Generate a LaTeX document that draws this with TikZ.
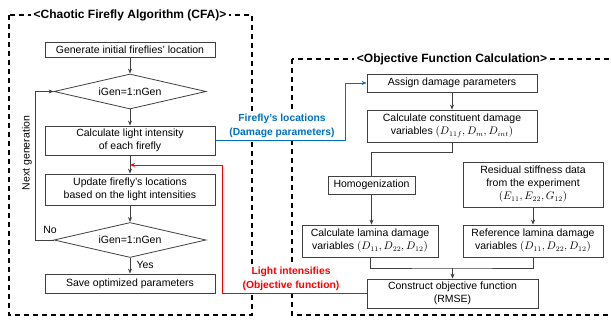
\documentclass[tikz,border=0pt]{standalone}
\usepackage{fontspec}
\setmainfont{Liberation Sans}
\usetikzlibrary{shapes.geometric,arrows.meta}
\definecolor{flowblue}{RGB}{0,112,192}
\definecolor{boxgray}{RGB}{64,64,64}
\begin{document}
\begin{tikzpicture}[x=1pt,y=-1pt,
  txt/.style={font=\fontsize{10.5}{13}\selectfont},
  box/.style={txt, draw=boxgray, line width=0.8pt, align=center, inner sep=1pt},
  dec/.style={txt, draw=boxgray, line width=0.8pt, shape=diamond, aspect=4.3,
    minimum width=152pt, minimum height=35pt, inner sep=0pt},
  tip/.style={-{Stealth[length=5pt,width=4pt]}},
  flow/.style={draw=boxgray, line width=0.8pt, tip},
  link/.style={draw=boxgray, line width=0.8pt},
  frame/.style={draw=black, line width=1.4pt, dash pattern=on 5pt off 4pt},
  title/.style={fill=white, font=\bfseries\fontsize{12}{14}\selectfont, inner sep=3pt},
  tag/.style={fill=white, inner sep=1pt, font=\bfseries\fontsize{10.3}{13.5}\selectfont, align=center}]
\clip (0,0) rectangle (611,320);
\fill[white] (0,0) rectangle (611,320);

% dashed frames of the two stages
\draw[frame] (9,15) rectangle (252,315);
\draw[frame] (292,59) rectangle (640,315);
\node[title] (cfatitle) at (130,15) {<Chaotic Firefly Algorithm (CFA)>};
\node[title] (objtitle) at (452,59) {<Objective Function Calculation>};

% firefly algorithm loop
\node[box, minimum width=170pt, minimum height=14.5pt] (gen) at (130,50) {Generate initial fireflies' location};
\node[dec] (d1) at (130,91.5) {iGen=1:nGen};
\node[box, minimum width=170pt, minimum height=29pt] (calc) at (130,140.5) {Calculate light intensity\\of each firefly};
\node[box, minimum width=170pt, minimum height=31pt] (upd) at (130,189.5) {Update firefly's locations\\based on the light intensities};
\node[dec] (d2) at (130,240) {iGen=1:nGen};
\node[box, minimum width=170pt, minimum height=19pt] (save) at (130,283.5) {Save optimized parameters};

\draw[flow] (gen) -- (d1);
\draw[flow] (d1) -- (calc);
\draw[flow] (calc) -- (upd);
\draw[flow] (upd) -- (d2);
\draw[flow] (d2) -- (save);
\coordinate (loopcorner) at (35,240);
\draw[flow] (d2.west) -- (loopcorner) |- (d1.west);
\node[txt, anchor=south] (no) at (50,237) {No};
\node[txt, anchor=west] (yes) at (133,265) {Yes};
\node[txt, rotate=90] (nextgen) at (27,153) {Next generation};

% objective function evaluation
\node[box, minimum width=170pt, minimum height=18pt] (assign) at (452,83) {Assign damage parameters};
\node[box, minimum width=170pt, minimum height=32pt] (const) at (452,126) {Calculate constituent damage\\variables $(D_{11f}, D_m, D_{int})$};
\node[box, minimum width=87pt, minimum height=18pt] (homog) at (371.5,185) {Homogenization};
\node[box, minimum width=136pt, minimum height=32pt] (lamina) at (370,241) {Calculate lamina damage\\variables $(D_{11}, D_{22}, D_{12})$};
\node[box, minimum width=140pt, minimum height=45pt] (resid) at (533,184.5) {Residual stiffness data\\from the experiment\\$(E_{11}, E_{22}, G_{12})$};
\node[box, minimum width=140pt, minimum height=32pt] (ref) at (533,241) {Reference lamina damage\\variables $(D_{11}, D_{22}, D_{12})$};
\node[box, minimum width=171pt, minimum height=29pt] (rmse) at (452.5,293.5) {Construct objective function\\(RMSE)};

\draw[flow] (assign) -- (const);
\draw[link] (const.south) -- ++(0,10) -| (homog.north);
\draw[flow] (homog.south) -- (homog.south |- lamina.north);
\draw[flow] (resid) -- (ref);
\coordinate (merge) at (452.5,268);
\draw[link] (lamina.south) |- (merge) -| (ref.south);
\draw[flow] (merge) -- (rmse.north);

% data exchanged between the two stages
\coordinate (bluebend) at (345,140.5);
\draw[flowblue, line width=0.8pt, tip] (calc.east) -- (bluebend) |- (assign.west);
\node[tag, text=flowblue] (bluetag) at (282,126) {Firefly's locations\\(Damage parameters)};

\coordinate (redbend) at (222,293.5);
\coordinate (redin) at (130,165);
\draw[red, line width=0.8pt, tip] (rmse.west) -- (redbend) |- (redin);
\node[tag, text=red] (redtag) at (291,279) {Light intensifies\\(Objective function)};
\end{tikzpicture}
\end{document}
